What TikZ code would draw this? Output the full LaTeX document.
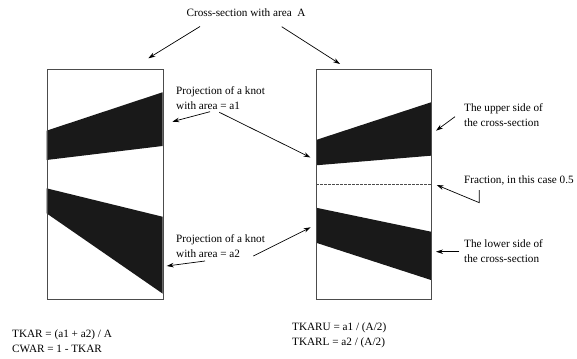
\documentclass[tikz,border=0pt]{standalone}
\usepackage{fontspec}
\setmainfont{Liberation Serif}
\usetikzlibrary{arrows.meta}
\begin{document}
\begin{tikzpicture}[x=1pt,y=-1pt,
  label/.style={font=\fontsize{11.2}{15}\selectfont, inner sep=0pt, align=left, anchor=west},
  frame/.style={draw=black!70, line width=0.9pt},
  knot/.style={fill=black!90, draw=none},
  pointer/.style={draw=black, line width=0.7pt, -{Stealth[length=7pt,width=4.5pt]}}]
  \useasboundingbox (0,0) rectangle (577,358);

  % knot projections, left cross-section
  \fill[knot] (46.5,130.7) -- (162.5,92.3) -- (162.5,146) -- (46.5,160) -- cycle;
  \fill[knot] (46.5,188.3) -- (162.5,216.7) -- (162.5,293.5) -- (46.5,213.3) -- cycle;
  % knot projections, right cross-section
  \fill[knot] (316,140) -- (431,102.3) -- (431,155.7) -- (316,165.3) -- cycle;
  \fill[knot] (316,207.7) -- (431,231.7) -- (431,280) -- (316,242.7) -- cycle;

  % the two cross-sections
  \node[frame, minimum width=116pt, minimum height=230pt, inner sep=0pt, anchor=north west] (csL) at (46.5,69) {};
  \node[frame, minimum width=115pt, minimum height=230pt, inner sep=0pt, anchor=north west] (csR) at (316,69) {};

  % fraction line dividing upper and lower sides
  \coordinate (fracL) at (316,184.3);
  \coordinate (fracR) at (431,184.3);
  \draw[black!70, line width=0.6pt, dash pattern=on 2.5pt off 1.5pt] (fracL) -- (fracR);

  % labels
  \node[label, anchor=center] (title) at (246,13) {Cross-section with area\ \ A};
  \node[label] (proj1) at (176,98) {Projection of a knot\\with area = a1};
  \node[label] (proj2) at (176,246) {Projection of a knot\\with area = a2};
  \node[label] (upper) at (464,115.5) {The upper side of\\the cross-section};
  \node[label] (frac) at (464,180) {Fraction, in this case 0.5};
  \node[label] (lower) at (464,251) {The lower side of\\the cross-section};
  \node[label] (formL) at (12,341) {TKAR = (a1 + a2) / A\\CWAR = 1 - TKAR};
  \node[label] (formR) at (292,335) {TKARU = a1 / (A/2)\\TKARL = a2 / (A/2)};

  % connector end points
  \coordinate (tA1) at (200,26.5);
  \coordinate (hA1) at (148.3,58.3);
  \coordinate (tA2) at (281.7,26.7);
  \coordinate (hA2) at (340,64);
  \coordinate (tP1a) at (210,111.7);
  \coordinate (hP1a) at (172.3,121.7);
  \coordinate (tP1b) at (219.3,112.3);
  \coordinate (hP1b) at (310.5,157.5);
  \coordinate (tP2a) at (205,261);
  \coordinate (hP2a) at (166.7,266);
  \coordinate (tP2b) at (253.3,256);
  \coordinate (hP2b) at (310.7,227.3);
  \coordinate (tU) at (455,116.7);
  \coordinate (hU) at (436,130.7);
  \coordinate (tF) at (479.3,190);
  \coordinate (kF) at (479.3,202.7);
  \coordinate (hF) at (436.7,185);
  \coordinate (tL) at (459.3,251.7);
  \coordinate (hL) at (436,251.7);

  % connectors
  \draw[pointer] (tA1) -- (hA1);
  \draw[pointer] (tA2) -- (hA2);
  \draw[pointer] (tP1a) -- (hP1a);
  \draw[pointer] (tP1b) -- (hP1b);
  \draw[pointer] (tP2a) -- (hP2a);
  \draw[pointer] (tP2b) -- (hP2b);
  \draw[pointer] (tU) -- (hU);
  \draw[pointer] (tF) -- (kF) -- (hF);
  \draw[pointer] (tL) -- (hL);
\end{tikzpicture}
\end{document}
